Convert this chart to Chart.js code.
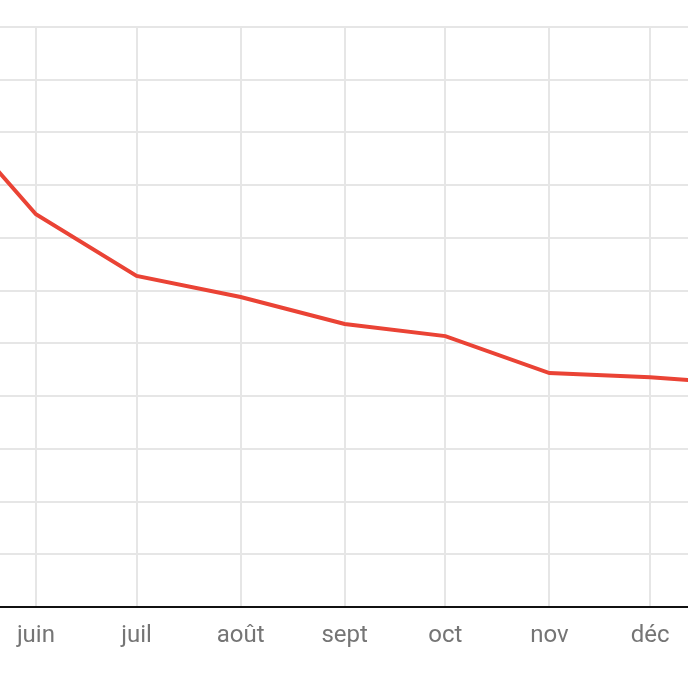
<!DOCTYPE html>
<html>
<head>
<meta charset="utf-8">
<script src="https://cdn.jsdelivr.net/npm/chart.js@4.4.1/dist/chart.umd.min.js"></script>
<style>
  html, body { margin: 0; padding: 0; background: #fff; }
  #wrap { width: 688px; height: 686px; }
</style>
</head>
<body>
<div id="wrap"><canvas id="chart"></canvas></div>
<script>
// day of year for the first of each month (mai .. janv)
const monthDays = [121, 152, 182, 213, 244, 274, 305, 335, 366];
const monthLabels = ['mai', 'juin', 'juil', 'août', 'sept', 'oct', 'nov', 'déc', 'janv'];
const seriesValues = [97, 74.5, 62.8, 58.8, 53.7, 51.4, 44.4, 43.6, 42.2];
// visible window (the picture is a crop of a wider chart)
const xMin = 141.3;
const xMax = 346.3;

const points = monthDays.map((d, i) => ({ x: d, y: seriesValues[i] }));

new Chart(document.getElementById('chart'), {
  type: 'line',
  data: {
    datasets: [{
      data: points,
      borderColor: '#ea4335',
      borderWidth: 4,
      pointRadius: 0,
      tension: 0,
      fill: false
    }]
  },
  options: {
    responsive: true,
    maintainAspectRatio: false,
    animation: false,
    layout: { padding: { top: 27, bottom: 22, left: 0, right: 0 } },
    plugins: { legend: { display: false }, tooltip: { enabled: false } },
    scales: {
      x: {
        type: 'linear',
        min: xMin,
        max: xMax,
        afterBuildTicks: (axis) => {
          axis.ticks = monthDays.filter(d => d >= xMin && d <= xMax).map(d => ({ value: d }));
        },
        ticks: {
          includeBounds: false,
          autoSkip: false,
          maxRotation: 0,
          padding: 14,
          color: '#757575',
          font: { family: 'Roboto', size: 24 },
          callback: (value) => monthLabels[monthDays.indexOf(value)]
        },
        grid: { color: '#e6e6e6', lineWidth: 2, drawTicks: false },
        border: { color: '#111', width: 2 }
      },
      y: {
        min: 0,
        max: 110,
        ticks: { display: false, stepSize: 10 },
        grid: { color: '#e6e6e6', lineWidth: 2, drawTicks: false },
        border: { display: false }
      }
    }
  }
});
</script>
</body>
</html>
